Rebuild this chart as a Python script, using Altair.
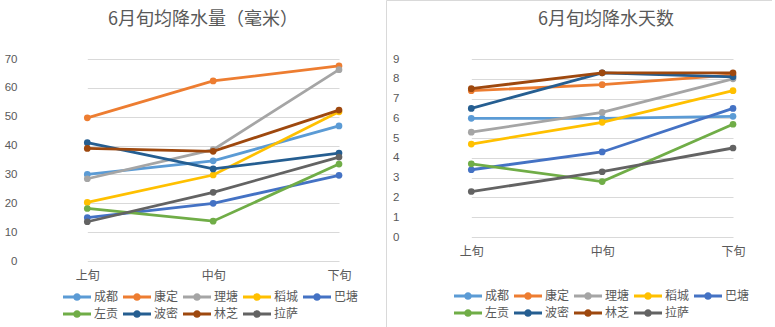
import altair as alt
import pandas as pd

periods = ["上旬", "中旬", "下旬"]
stations = ["成都", "康定", "理塘", "稻城", "巴塘", "左贡", "波密", "林芝", "拉萨"]
colors = ["#5B9BD5", "#ED7D31", "#A5A5A5", "#FFC000", "#4472C4",
          "#70AD47", "#255E91", "#9E480E", "#636363"]

# 6月旬均降水量（毫米）
rain_shang = [30.0, 49.6, 28.5, 20.3, 15.0, 18.2, 41.0, 39.0, 13.6]
rain_zhong = [34.7, 62.4, 38.6, 29.8, 20.0, 13.8, 31.9, 38.0, 23.8]
rain_xia = [46.8, 67.6, 66.3, 51.7, 29.7, 33.6, 37.4, 52.3, 36.0]
# 6月旬均降水天数
days_shang = [6.0, 7.4, 5.3, 4.7, 3.4, 3.7, 6.5, 7.5, 2.3]
days_zhong = [6.0, 7.7, 6.3, 5.8, 4.3, 2.8, 8.3, 8.3, 3.3]
days_xia = [6.1, 8.2, 8.0, 7.4, 6.5, 5.7, 8.1, 8.3, 4.5]

rain_cols = [rain_shang, rain_zhong, rain_xia]
days_cols = [days_shang, days_zhong, days_xia]
rows = []
for i, s in enumerate(stations):
    for j, p in enumerate(periods):
        rows.append({"station": s, "period": p,
                     "rain": rain_cols[j][i], "days": days_cols[j][i]})
df = pd.DataFrame(rows)

GRAY = "#595959"
CJK = "Noto Sans CJK SC"
SYMBOL = ("M-1,-0.2L3,-0.2L3,0.2L-1,0.2Z "
          "M1.55,0A0.55,0.55,0,1,1,0.45,0A0.55,0.55,0,1,1,1.55,0Z")


def panel(field, ymax, step, width, height, xr, title, tx, lx, ly, lpad, border):
    x = alt.X("period:N", sort=periods,
              scale=alt.Scale(type="point", domain=periods, range=xr, padding=0),
              axis=alt.Axis(title=None, labelAngle=0, domain=False, ticks=False,
                            grid=False, labelPadding=9, labelFontSize=12,
                            labelFont=CJK, labelColor=GRAY))
    y = alt.Y(f"{field}:Q",
              scale=alt.Scale(domain=[0, ymax], nice=False, zero=True),
              axis=alt.Axis(title=None, values=list(range(0, ymax + 1, step)),
                            domain=False, ticks=False, grid=True,
                            gridColor="#D9D9D9", gridWidth=1,
                            labelPadding=lpad, labelFontSize=11.5,
                            labelFont="Liberation Sans", labelColor=GRAY))
    cscale = alt.Scale(domain=stations, range=colors)
    leg = alt.Legend(orient="none", legendX=lx, legendY=ly, direction="horizontal",
                     columns=5, title=None, symbolType=SYMBOL, symbolSize=196,
                     symbolStrokeWidth=0, symbolOpacity=1, labelFontSize=12,
                     labelFont=CJK, labelColor=GRAY, labelOffset=17,
                     columnPadding=4, rowPadding=4, labelLimit=0)
    layers = []
    for k, s in enumerate(stations):
        base = alt.Chart(df).transform_filter(alt.datum.station == s)
        ln = base.mark_line(strokeWidth=2.8).encode(
            x=x, y=y, color=alt.Color("station:N", scale=cscale, legend=None))
        pt = base.mark_point(filled=True, size=45, opacity=1).encode(
            x=x, y=y, color=alt.Color("station:N", scale=cscale, legend=leg))
        if k == 0:
            layers += [pt, ln]
        else:
            layers += [ln, pt]
    one = alt.Data(values=[{}])
    layers.append(alt.Chart(one).mark_text(
        text=title, fontSize=18, font=CJK, color=GRAY,
        baseline="middle", align="center").encode(
        x=alt.value(tx), y=alt.value(-39)))
    if border:
        layers.append(alt.Chart(one).mark_rule(color="#D9D9D9", strokeWidth=1).encode(
            x=alt.value(-19.5), y=alt.value(-58.5), y2=alt.value(268)))
        layers.append(alt.Chart(one).mark_rule(color="#D9D9D9", strokeWidth=1).encode(
            x=alt.value(-19.5), x2=alt.value(width), y=alt.value(-58.5)))
    else:
        layers.append(alt.Chart(one).mark_rule(color="white", strokeWidth=1).encode(
            x=alt.value(-24.5), y=alt.value(-58.5), y2=alt.value(-50)))
    return alt.layer(*layers).properties(width=width, height=height)


left = panel("rain", 70, 10, 361, 202, [62.3, 314], "6月旬均降水量（毫米）",
             178, 38, 231, 8, False)
right = panel("days", 9, 1, 366, 178, [65.3, 327], "6月旬均降水天数",
              200, 48, 230, 7, True)

chart = alt.hconcat(left, right, spacing=0).resolve_scale(
    color="independent"
).properties(padding=0).configure_view(stroke=None)

chart.save("out.html", embed_options={"renderer": "svg", "actions": False})
